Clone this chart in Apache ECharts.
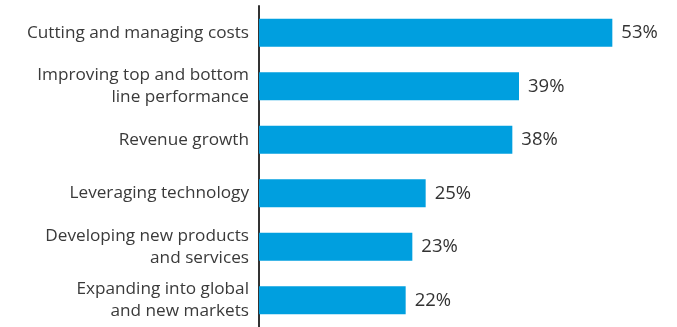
<!DOCTYPE html>
<html>
<head>
<meta charset="utf-8">
<script src="https://cdn.jsdelivr.net/npm/echarts@6/dist/echarts.min.js"></script>
<style>
  html, body { margin: 0; padding: 0; background: #fff; }
  #chart { width: 677px; height: 327px; }
</style>
</head>
<body>
<div id="chart"></div>
<script>
// Business priorities, share of respondents (%)
const categories = [
  'Cutting and managing costs',
  'Improving top and bottom\nline performance',
  'Revenue growth',
  'Leveraging technology',
  'Developing new products\nand services',
  'Expanding into global\nand new markets'
];
const shares = [53, 39, 38, 25, 23, 22];

const chart = echarts.init(document.getElementById('chart'), null, { renderer: 'canvas' });

chart.setOption({
  animation: false,
  grid: { left: 259, right: 18, top: 6, bottom: 0, containLabel: false },
  xAxis: {
    type: 'value',
    min: 0,
    max: 60,
    show: false
  },
  yAxis: {
    type: 'category',
    data: categories,
    inverse: true,
    axisLine: { show: true, lineStyle: { color: '#333', width: 2 } },
    axisTick: { show: false },
    splitLine: { show: false },
    axisLabel: {
      margin: 10,
      color: '#3a3a3a',
      fontFamily: 'Open Sans',
      fontSize: 17.2,
      lineHeight: 22,
      align: 'right'
    }
  },
  series: [{
    type: 'bar',
    data: shares,
    barWidth: 28,
    itemStyle: { color: '#009fdf' },
    label: {
      show: true,
      position: 'right',
      distance: 9,
      formatter: '{c}%',
      color: '#333',
      fontFamily: 'Open Sans',
      fontSize: 18.5
    }
  }]
});
</script>
</body>
</html>
